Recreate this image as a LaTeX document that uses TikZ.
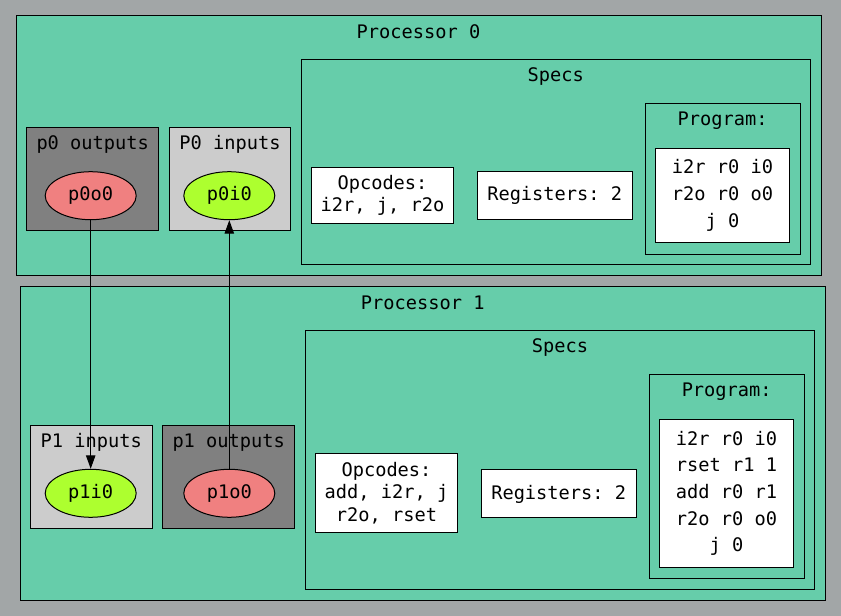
\documentclass[tikz,border=0pt]{standalone}
\usepackage{fontspec}
\setmonofont{DejaVu Sans Mono}
\usetikzlibrary{arrows.meta,fit,shapes.geometric}
\definecolor{bggray}{RGB}{162,166,167}
\definecolor{aqua}{RGB}{102,205,170}
\definecolor{lcoral}{RGB}{240,128,128}
\definecolor{gyellow}{RGB}{173,255,47}
\definecolor{grayeighty}{RGB}{204,204,204}
\definecolor{grayfifty}{RGB}{128,128,128}
\tikzset{
  cluster/.style={draw=black, line width=0.75pt, inner sep=0pt, outer sep=0pt},
  whitebox/.style={cluster, fill=white},
  txt/.style={font=\ttfamily\fontsize{14pt}{16pt}\selectfont, anchor=base, inner sep=0pt},
  port/.style={ellipse, draw=black, line width=0.75pt, minimum width=68.25pt, minimum height=36pt, inner sep=0pt},
  edge/.style={draw=black, line width=0.75pt, -{Triangle[length=10pt,width=7pt]}}
}
\begin{document}
\begin{tikzpicture}[x=0.75pt,y=-0.75pt]
\useasboundingbox (0,0) rectangle (841,616);
\fill[bggray] (0,0) rectangle (841,616);
% Processor 0
\node[cluster, fill=aqua, fit={(16,16) (821,276)}] (proc0) {};
\node[txt] (proc0t) at (418.5,38.3) {Processor 0};
\node[cluster, fit={(301,60) (810.7,265)}] (specs0) {};
\node[txt] (specs0t) at (555.8,81.7) {Specs};
\node[cluster, fit={(645.3,104) (800,254.7)}] (prog0) {};
\node[txt] (prog0t) at (722.6,126) {Program:};
\node[whitebox, fit={(655.7,148.7) (789.3,243)}] (code0) {};
\node[txt] (code0a) at (722.5,174) {i2r r0 i0};
\node[txt] (code0b) at (722.5,200.7) {r2o r0 o0};
\node[txt] (code0c) at (722.5,227.3) {j 0};
\node[whitebox, fit={(477.3,171.7) (632,220)}] (regs0) {};
\node[txt] (regs0t) at (554.7,201) {Registers: 2};
\node[whitebox, fit={(311.7,167.7) (453.3,224)}] (ops0) {};
\node[txt] (ops0a) at (382.5,189.5) {Opcodes:};
\node[txt] (ops0b) at (382.5,212) {i2r, j, r2o};
\node[cluster, fill=grayfifty, fit={(26.7,127.7) (158.7,230.3)}] (out0) {};
\node[txt] (out0t) at (92.7,150) {p0 outputs};
\node[cluster, fill=grayeighty, fit={(169.3,127.7) (290.7,230.3)}] (in0) {};
\node[txt] (in0t) at (230,150) {P0 inputs};
\node[port, fill=lcoral] (p0o0) at (90.7,195.7) {};
\node[txt] (p0o0t) at (90.7,201) {p0o0};
\node[port, fill=gyellow] (p0i0) at (229.3,195.7) {};
\node[txt] (p0i0t) at (229.3,201) {p0i0};
% Processor 1
\node[cluster, fill=aqua, fit={(20,286.7) (825.3,600)}] (proc1) {};
\node[txt] (proc1t) at (422.7,309.3) {Processor 1};
\node[cluster, fit={(305.3,330.7) (814.7,589.3)}] (specs1) {};
\node[txt] (specs1t) at (560,352.7) {Specs};
\node[cluster, fit={(649,374.7) (804.3,578.7)}] (prog1) {};
\node[txt] (prog1t) at (726.7,396.7) {Program:};
\node[whitebox, fit={(659.7,419) (793.3,567)}] (code1) {};
\node[txt] (code1a) at (726.5,445) {i2r r0 i0};
\node[txt] (code1b) at (726.5,471.7) {rset r1 1};
\node[txt] (code1c) at (726.5,498.3) {add r0 r1};
\node[txt] (code1d) at (726.5,525) {r2o r0 o0};
\node[txt] (code1e) at (726.5,551.7) {j 0};
\node[whitebox, fit={(481,469.3) (636.3,517.3)}] (regs1) {};
\node[txt] (regs1t) at (558.7,499) {Registers: 2};
\node[whitebox, fit={(315.7,453.7) (457.3,532.7)}] (ops1) {};
\node[txt] (ops1a) at (386.5,476) {Opcodes:};
\node[txt] (ops1b) at (386.5,498.5) {add, i2r, j};
\node[txt] (ops1c) at (386.5,521) {r2o, rset};
\node[cluster, fill=grayeighty, fit={(30.3,425) (152.3,528.3)}] (in1) {};
\node[txt] (in1t) at (91.3,447) {P1 inputs};
\node[cluster, fill=grayfifty, fit={(162.7,425) (294.7,528.3)}] (out1) {};
\node[txt] (out1t) at (228.7,447) {p1 outputs};
\node[port, fill=gyellow] (p1i0) at (90.7,493.3) {};
\node[txt] (p1i0t) at (90.7,498.5) {p1i0};
\node[port, fill=lcoral] (p1o0) at (229.3,493.3) {};
\node[txt] (p1o0t) at (229.3,498.5) {p1o0};
% edges
\draw[edge] (p0o0) -- (p1i0);
\draw[edge] (p1o0) -- (p0i0);
\end{tikzpicture}
\end{document}
